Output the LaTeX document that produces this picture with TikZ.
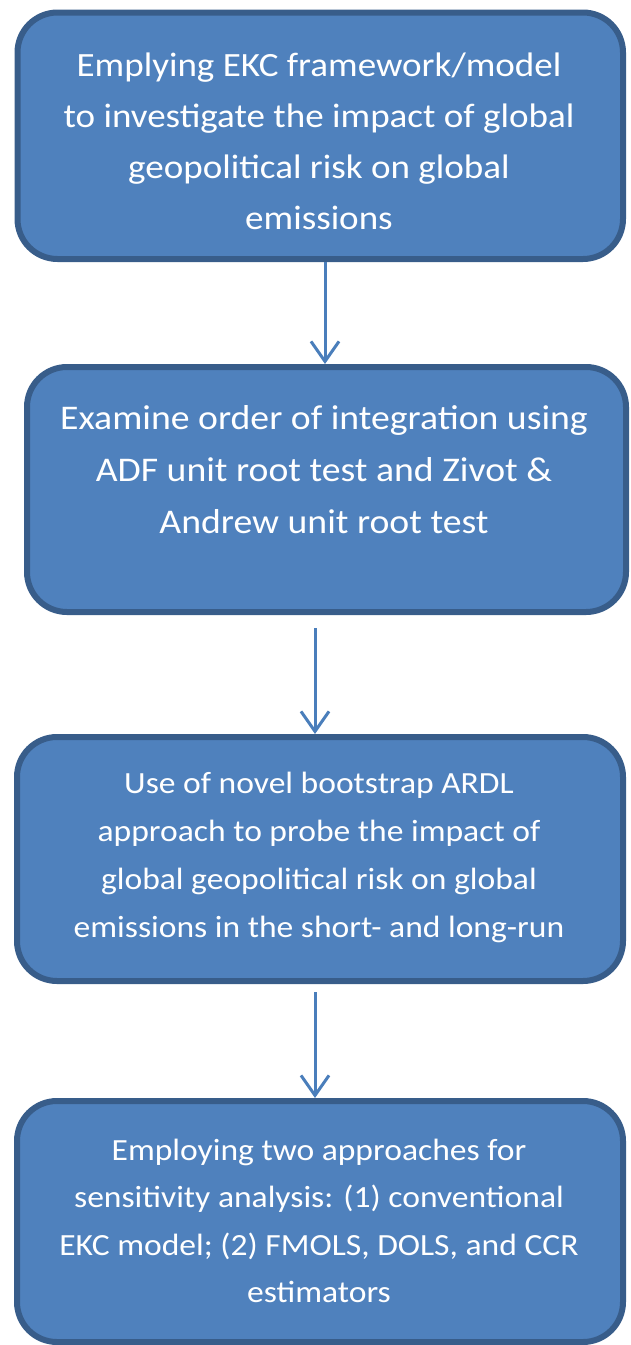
\documentclass[tikz,border=0pt]{standalone}
\usepackage{fontspec}
\setmainfont{Carlito}[FakeStretch=1.09]
\usetikzlibrary{arrows.meta}
\definecolor{boxfill}{HTML}{4F81BD}
\definecolor{boxline}{HTML}{385D8A}
\definecolor{arrowcol}{HTML}{4A7EBB}
\begin{document}
\begin{tikzpicture}[x=1pt,y=-1pt,
  flowbox/.style={draw=boxline,fill=boxfill,line width=6pt,rounded corners=40pt,inner sep=0pt},
  flowtext/.style={text=white,align=center,inner sep=0pt},
  flowarrow/.style={draw=arrowcol,line width=3pt,-{Straight Barb[length=20pt,width=28pt]}}]
\useasboundingbox (0,0) rectangle (630,1345);
\node[flowbox,minimum width=605.5pt,minimum height=246.5pt] (b1) at (320.25,135.75) {};
\node[flowbox,minimum width=599pt,minimum height=245pt] (b2) at (326.5,489.5) {};
\node[flowbox,minimum width=606pt,minimum height=244pt] (b3) at (320,859) {};
\node[flowbox,minimum width=606pt,minimum height=241pt] (b4) at (320,1221.5) {};
\node[flowtext,font=\fontsize{34}{51}\selectfont] (t1) at (319,141) {Emplying EKC framework/model\\to investigate the impact of global\\geopolitical risk on global\\emissions};
\node[flowtext,font=\fontsize{34.6}{52}\selectfont] (t2) at (324,470) {Examine order of integration using\\ADF unit root test and Zivot \&\\Andrew unit root test};
\node[flowtext,font=\fontsize{30.8}{48}\selectfont] (t3) at (319,857) {Use of novel bootstrap ARDL\\approach to probe the impact of\\global geopolitical risk on global\\emissions in the short- and long-run};
\node[flowtext,font=\fontsize{30.8}{47.5}\selectfont] (t4) at (319,1221) {Employing two approaches for\\sensitivity analysis: (1) conventional\\EKC model; (2) FMOLS, DOLS, and CCR\\estimators};
\coordinate (a2s) at (315,628);
\coordinate (a3s) at (315,992);
\draw[flowarrow] (b1.south -| 325,0) -- (b2.north -| 325,0);
\draw[flowarrow] (a2s) -- (b3.north -| a2s);
\draw[flowarrow] (a3s) -- (b4.north -| a3s);
\end{tikzpicture}
\end{document}
